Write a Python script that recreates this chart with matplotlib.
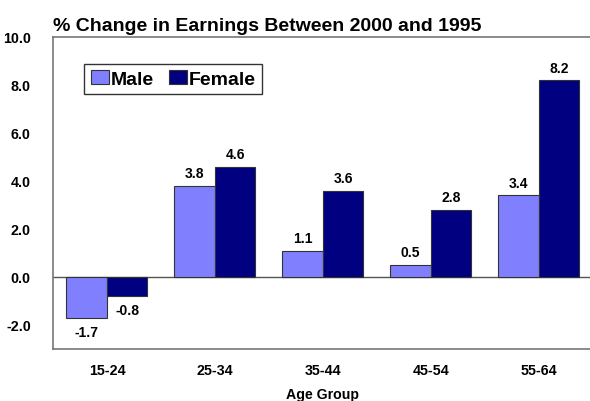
import numpy as np
import matplotlib
matplotlib.use("Agg")
import matplotlib.pyplot as plt

plt.rcParams['font.family'] = ['Liberation Sans', 'DejaVu Sans']
plt.rcParams['font.weight'] = 'bold'

age_groups = ["15-24", "25-34", "35-44", "45-54", "55-64"]
male = [-1.7, 3.8, 1.1, 0.5, 3.4]
female = [-0.8, 4.6, 3.6, 2.8, 8.2]
yticks = [-2.0, 0.0, 2.0, 4.0, 6.0, 8.0, 10.0]

fig = plt.figure(figsize=(5.9, 4.02), dpi=100)
ax = fig.add_axes([0.0898, 0.1294, 0.915, 0.7761])

x = np.arange(len(age_groups))
w = 0.375
b1 = ax.bar(x - w/2, male, w, color="#8080FF", edgecolor="#333333", linewidth=0.8, label="Male", zorder=2)
b2 = ax.bar(x + w/2, female, w, color="#000080", edgecolor="#333333", linewidth=0.8, label="Female", zorder=2)

for bars, vals in ((b1, male), (b2, female)):
    for r, v in zip(bars, vals):
        cx = r.get_x() + r.get_width()/2
        if v >= 0:
            ax.annotate("%.1f" % v, (cx, v), xytext=(0, 4), textcoords="offset points",
                        ha="center", va="bottom", fontsize=10, fontweight="bold")
        else:
            ax.annotate("%.1f" % v, (cx, v), xytext=(0, -5), textcoords="offset points",
                        ha="center", va="top", fontsize=10, fontweight="bold")

ax.axhline(0, color="#555555", linewidth=1, zorder=1)
ax.set_xlim(-0.5, 4.5)
ax.set_ylim(-3, 10)
ax.set_yticks(yticks)
ax.set_yticklabels(["%.1f" % t for t in yticks], fontsize=10.3, fontweight="bold")
ax.set_xticks(x)
ax.set_xticklabels(age_groups, fontsize=10.3, fontweight="bold")
ax.tick_params(length=0, pad=10)
ax.tick_params(axis="y", pad=16)
ax.set_xlabel("Age Group", fontsize=10.2, fontweight="bold", labelpad=7)

for s in ("left", "top", "bottom"):
    ax.spines[s].set_color("#777777")
    ax.spines[s].set_linewidth(1.2)
ax.spines["right"].set_visible(False)

ax.set_title("% Change in Earnings Between 2000 and 1995", loc="left", fontsize=14,
             fontweight="bold", pad=5)

leg = ax.legend(loc="upper left", bbox_to_anchor=(0.058, 0.913), ncol=2, fontsize=14,
                frameon=True, fancybox=False, handlelength=0.95, handleheight=0.7,
                handletextpad=0.1, columnspacing=0.75, borderpad=0.32, borderaxespad=0)
leg.get_frame().set_edgecolor("black")
leg.get_frame().set_linewidth(1)
for t in leg.get_texts():
    t.set_fontweight("bold")

fig.savefig("out.png", dpi=100)
